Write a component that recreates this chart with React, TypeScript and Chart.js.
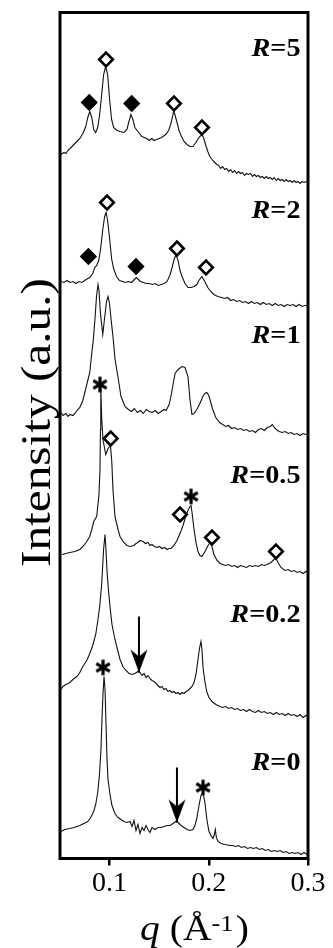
import React, { useEffect, useRef } from 'react';
import { Chart, registerables } from 'chart.js';

Chart.register(...registerables);

// ---------- data (q in 1/Å, intensity in arbitrary offset units) ----------
const xTicks = [0.1, 0.2, 0.3];

const qR5 = [0.051,0.054,0.056,0.058,0.062,0.066,0.070,0.073,0.076,0.078,0.080,0.082,0.084,0.086,0.088,0.090,0.092,0.094,0.096,0.098,0.100,0.102,0.104,0.1075,0.1105,0.1145,0.1175,0.1195,0.1215,0.1235,0.1255,0.1285,0.1325,0.1375,0.140,0.1425,0.145,0.1475,0.150,0.1525,0.1565,0.1595,0.1615,0.1635,0.1645,0.1655,0.168,0.170,0.172,0.175,0.178,0.181,0.184,0.187,0.190,0.193,0.195,0.197,0.199,0.201,0.204,0.206,0.208,0.210,0.212,0.214,0.216,0.218,0.220,0.222,0.224,0.226,0.228,0.230,0.232,0.234,0.236,0.238,0.240,0.242,0.244,0.246,0.248,0.250,0.252,0.254,0.256,0.258,0.260,0.262,0.264,0.266,0.268,0.270,0.272,0.274,0.276,0.278,0.280,0.282,0.284,0.286,0.288,0.290,0.292,0.294,0.296,0.298,0.300];
const iR5 = [704,706,705,708,712,716,720,725,732,741,747,741,729,726,731,744,764,784,792,784,759,739,731,728,727,726,729,737,744,739,731,727,722,720,718,720,718,719,720,721,724,728,734,742,747,745,736,728,723,717,714,712,712,716,721,724,720,713,707,702,698,696,694,693,690,692,689,690,687,689,686,688,685,687,685,686,683,685,684,685,682,684,682,683,681,682,680,682,680,681,679,681,678,680,678,679,677,679,677,678,676,678,676,677,675,677,676,677,676];

const qR2 = [0.051,0.054,0.057,0.060,0.063,0.066,0.069,0.072,0.075,0.078,0.080,0.083,0.085,0.087,0.089,0.091,0.093,0.095,0.0965,0.098,0.100,0.102,0.104,0.107,0.110,0.113,0.116,0.119,0.122,0.124,0.127,0.129,0.131,0.134,0.137,0.140,0.143,0.146,0.149,0.152,0.155,0.158,0.161,0.163,0.165,0.167,0.169,0.171,0.173,0.176,0.179,0.182,0.185,0.188,0.190,0.193,0.196,0.199,0.202,0.205,0.209,0.213,0.216,0.219,0.222,0.225,0.228,0.231,0.234,0.237,0.240,0.243,0.246,0.249,0.252,0.255,0.258,0.261,0.264,0.267,0.270,0.273,0.276,0.279,0.282,0.285,0.288,0.291,0.294,0.297,0.300];
const iR2 = [577,576,578,576,577,575,577,576,578,580,581,585,591,593,598,610,628,642,646,638,620,600,590,582,578,577,576,577,576,578,581,579,577,576,575,575,574,575,573,574,575,577,584,591,599,604,598,588,582,575,571,571,572,574,578,582,577,571,567,564,562,561,560,561,558,559,557,558,556,557,555,557,555,556,554,556,554,555,553,555,553,554,552,554,553,554,552,554,552,553,553];

const qR1 = [0.051,0.053,0.056,0.058,0.060,0.063,0.065,0.067,0.070,0.073,0.075,0.078,0.080,0.082,0.0836,0.0853,0.0868,0.0883,0.0893,0.0908,0.0931,0.0949,0.0969,0.0984,0.0999,0.1014,0.1037,0.1054,0.1088,0.1115,0.1155,0.119,0.122,0.125,0.128,0.131,0.134,0.137,0.140,0.143,0.146,0.149,0.152,0.155,0.157,0.160,0.162,0.164,0.166,0.169,0.173,0.176,0.179,0.181,0.183,0.185,0.188,0.191,0.194,0.196,0.198,0.200,0.202,0.204,0.207,0.211,0.214,0.217,0.220,0.223,0.226,0.229,0.232,0.235,0.238,0.241,0.244,0.247,0.250,0.253,0.256,0.259,0.262,0.264,0.266,0.268,0.271,0.274,0.277,0.280,0.283,0.286,0.289,0.292,0.295,0.298,0.300];
const iR1 = [446,443,445,442,444,443,445,448,451,458,466,478,486,505,519,540,562,574,568,545,524,540,557,562,555,540,519,500,479,462,452,449,447,450,446,448,445,449,447,446,448,445,447,449,448,454,463,474,485,489,492,491,482,459,444,445,449,455,462,465,466,463,456,449,441,436,434,432,433,430,431,429,430,428,429,427,428,426,429,430,428,431,432,434,431,429,427,426,427,425,426,424,425,423,425,424,424];

const qR05 = [0.052,0.056,0.060,0.065,0.070,0.074,0.077,0.080,0.082,0.084,0.0870,0.0893,0.0903,0.0908,0.0911,0.0921,0.0933,0.0961,0.0984,0.1009,0.1022,0.1034,0.1054,0.1085,0.1105,0.1135,0.1175,0.1206,0.1246,0.1266,0.1286,0.1307,0.1337,0.1362,0.1387,0.1407,0.1427,0.1452,0.1478,0.1503,0.1528,0.1554,0.1579,0.1599,0.1619,0.1649,0.1679,0.1710,0.1740,0.1770,0.1790,0.1810,0.1821,0.1831,0.1851,0.1871,0.1891,0.1911,0.1931,0.1962,0.1992,0.2012,0.2032,0.2052,0.2083,0.2113,0.214,0.217,0.220,0.223,0.226,0.229,0.232,0.235,0.238,0.241,0.244,0.247,0.250,0.253,0.256,0.2587,0.2627,0.2657,0.2677,0.2698,0.2728,0.2768,0.280,0.283,0.286,0.289,0.292,0.295,0.298,0.300];
const iR05 = [304,305,306,307,309,313,317,322,329,337,342,364,389,429,471,439,419,404,410,413,397,369,342,329,322,317,313,312,313,315,316,318,317,315,316,313,314,312,311,312,310,311,309,310,310,313,318,325,333,343,348,352,353,346,329,316,307,303,302,307,313,316,312,304,298,295,294,293,294,292,293,291,293,292,291,293,292,293,292,294,293,294,296,299,300,296,291,288,289,287,288,286,287,285,287,286];

const qR02 = [0.051,0.053,0.056,0.060,0.063,0.067,0.070,0.073,0.077,0.080,0.083,0.086,0.088,0.090,0.092,0.093,0.094,0.0954,0.0964,0.0974,0.0989,0.1004,0.1024,0.1054,0.1085,0.1105,0.1135,0.1165,0.1196,0.1226,0.1256,0.1286,0.1306,0.1327,0.1347,0.1367,0.1387,0.1407,0.1427,0.1448,0.1468,0.1488,0.1508,0.1528,0.1548,0.1568,0.1589,0.1609,0.1629,0.1649,0.1669,0.1690,0.1710,0.1730,0.1750,0.1770,0.1790,0.1810,0.1831,0.1851,0.1871,0.1891,0.1906,0.1921,0.1931,0.1942,0.1962,0.1982,0.2002,0.2032,0.2072,0.2113,0.214,0.217,0.220,0.223,0.226,0.229,0.232,0.235,0.238,0.241,0.244,0.247,0.250,0.253,0.256,0.259,0.262,0.265,0.268,0.271,0.274,0.277,0.280,0.283,0.286,0.289,0.292,0.295,0.298,0.300];
const iR02 = [169,172,174,176,179,182,186,192,198,205,213,224,237,252,274,292,310,324,308,287,268,252,234,219,207,199,192,188,185,184,185,187,186,183,185,181,183,180,178,177,175,173,171,172,169,170,167,168,166,167,165,166,164,166,165,167,168,170,172,176,184,199,210,217,209,191,176,166,161,157,154,152,151,152,150,151,149,150,148,149,147,149,147,146,148,146,147,145,146,144,146,144,145,143,145,143,144,142,144,141,143,142];

const qR0 = [0.051,0.055,0.060,0.064,0.067,0.070,0.074,0.078,0.081,0.084,0.086,0.088,0.0898,0.0913,0.0923,0.0933,0.0944,0.0954,0.0964,0.0974,0.0984,0.1004,0.1024,0.1054,0.1085,0.1115,0.1145,0.1175,0.1206,0.1226,0.1246,0.1266,0.1286,0.1306,0.1327,0.1347,0.1367,0.1387,0.1407,0.1427,0.1458,0.1488,0.1518,0.1548,0.1579,0.1609,0.1639,0.1669,0.1690,0.1720,0.1750,0.1780,0.1810,0.1841,0.1861,0.1881,0.1901,0.1921,0.1942,0.1962,0.1982,0.2002,0.2022,0.2042,0.2056,0.2066,0.2076,0.2093,0.2123,0.2163,0.2214,0.224,0.227,0.230,0.233,0.236,0.239,0.242,0.245,0.248,0.251,0.254,0.257,0.260,0.263,0.266,0.269,0.272,0.275,0.278,0.281,0.284,0.287,0.290,0.293,0.296,0.299];
const iR0 = [27,29,30,31,32,33,35,37,41,47,54,66,84,109,139,164,182,169,134,99,79,64,53,45,41,39,37,36,37,32,38,28,34,25,31,28,33,29,26,31,29,31,31,32,33,33,35,37,36,33,31,29,28,29,33,41,53,63,66,55,38,27,23,20,24,29,21,17,15,14,13,13,12,13,11,12,10,11,10,11,9,10,8,9,7,8,7,8,6,7,5,6,5,6,4,6,4];

// peak markers
const openDiamondQ = [0.0964,0.1649,0.1931, 0.0974,0.1679,0.1972, 0.1011,0.1710,0.2032,0.2677];
const openDiamondI = [799,755,731, 656,610,591, 420,344,321,307];
const filledDiamondQ = [0.0795,0.1223, 0.0786,0.1266];
const filledDiamondI = [756,755, 602,592];
const starQ = [0.0903,0.1821, 0.0934,0.1942];
const starI = [474,362, 191,71];

// arrows: [q, start intensity, tip intensity]
const arrowQ = [0.1296, 0.1679];
const arrowTop = [242, 91];
const arrowTip = [186, 36];

// curve labels
const labelText = ['5', '2', '1', '0.5', '0.2', '0'];
const labelLevel = [803, 641, 516, 376, 237, 89];
const labelQ = 0.2925;

const SERIF = '"Liberation Serif", "Times New Roman", Times, serif';

function pts(q: number[], v: number[]) {
  return q.map((x, i) => ({ x, y: v[i] }));
}

function makeStar(): HTMLCanvasElement {
  const c = document.createElement('canvas');
  c.width = 20;
  c.height = 20;
  const g = c.getContext('2d')!;
  g.strokeStyle = '#000';
  g.lineWidth = 3.2;
  const r = 7.8;
  for (let k = 0; k < 3; k++) {
    const a = Math.PI / 2 + (k * Math.PI) / 3;
    g.beginPath();
    g.moveTo(10 + r * Math.cos(a), 10 + r * Math.sin(a));
    g.lineTo(10 - r * Math.cos(a), 10 - r * Math.sin(a));
    g.stroke();
  }
  return c;
}

function makeArrowHead(): HTMLCanvasElement {
  const c = document.createElement('canvas');
  c.width = 18;
  c.height = 50;
  const g = c.getContext('2d')!;
  g.fillStyle = '#000';
  g.beginPath();
  g.moveTo(9, 25);
  g.lineTo(0.5, 2);
  g.lineTo(9, 9);
  g.lineTo(17.5, 2);
  g.closePath();
  g.fill();
  return c;
}

const decorPlugin = {
  id: 'decor',
  afterDraw(chart: any) {
    const { ctx, chartArea, scales } = chart;
    const { left, right, top, bottom } = chartArea;
    ctx.save();
    ctx.strokeStyle = '#000';
    ctx.lineWidth = 3;
    ctx.strokeRect(left, top, right - left, bottom - top);
    ctx.fillStyle = '#000';
    ctx.textBaseline = 'alphabetic';
    ctx.textAlign = 'left';

    // curve labels  R=...
    const xr = scales.x.getPixelForValue(labelQ);
    labelText.forEach((t, i) => {
      const yb = scales.y.getPixelForValue(labelLevel[i]);
      ctx.save();
      ctx.translate(xr, yb);
      ctx.scale(1.13, 1);
      ctx.font = `italic bold 25px ${SERIF}`;
      const w1 = ctx.measureText('R').width;
      ctx.font = `bold 25px ${SERIF}`;
      const rest = '=' + t;
      const w2 = ctx.measureText(rest).width;
      ctx.font = `italic bold 25px ${SERIF}`;
      ctx.fillText('R', -(w1 + w2), 0);
      ctx.font = `bold 25px ${SERIF}`;
      ctx.fillText(rest, -w2, 0);
      ctx.restore();
    });

    // y title
    ctx.save();
    ctx.translate(49.5, 422.5);
    ctx.rotate(-Math.PI / 2);
    ctx.font = `42px ${SERIF}`;
    const yt = 'Intensity (a.u.)';
    const wy = ctx.measureText(yt).width;
    ctx.scale(289 / wy, 1);
    ctx.textAlign = 'center';
    ctx.fillText(yt, 0, 0);
    ctx.restore();

    // x title  q (Å-1)
    ctx.save();
    ctx.translate(140, 940);
    ctx.scale(1.1, 1);
    let x = 0;
    ctx.font = `italic 36px ${SERIF}`;
    ctx.fillText('q', x, 0);
    x += ctx.measureText('q ').width;
    ctx.font = `36px ${SERIF}`;
    ctx.fillText('(Å', x, 0);
    x += ctx.measureText('(Å').width;
    ctx.font = `24px ${SERIF}`;
    ctx.fillText('-1', x, -9);
    x += ctx.measureText('-1').width + 2;
    ctx.font = `36px ${SERIF}`;
    ctx.fillText(')', x, 0);
    ctx.restore();

    ctx.restore();
  },
};

export default function App() {
  const ref = useRef<HTMLCanvasElement | null>(null);

  useEffect(() => {
    if (!ref.current) return;
    const star = makeStar();
    const head = makeArrowHead();
    const curve = (q: number[], v: number[]) => ({
      data: pts(q, v),
      borderColor: '#111',
      borderWidth: 1.1,
      pointRadius: 0,
      tension: 0,
      order: 2,
    });
    const arrows = arrowQ.map((q, i) => ({
      data: [
        { x: q, y: arrowTop[i] },
        { x: q, y: arrowTip[i] },
      ],
      borderColor: '#000',
      borderWidth: 2,
      pointRadius: [0, 5],
      pointStyle: ['circle', head],
      tension: 0,
      order: 1,
    }));
    const chart = new Chart(ref.current, {
      type: 'line',
      data: {
        datasets: [
          {
            data: pts(openDiamondQ, openDiamondI),
            showLine: false,
            pointStyle: 'rectRot',
            pointRadius: 6.8,
            pointBorderWidth: 2.6,
            pointBorderColor: '#000',
            pointBackgroundColor: '#fff',
            order: 0,
          },
          {
            data: pts(filledDiamondQ, filledDiamondI),
            showLine: false,
            pointStyle: 'rectRot',
            pointRadius: 6.8,
            pointBorderWidth: 2.6,
            pointBorderColor: '#000',
            pointBackgroundColor: '#000',
            order: 0,
          },
          {
            data: pts(starQ, starI),
            showLine: false,
            pointStyle: star,
            pointRadius: 5,
            order: 0,
          },
          ...arrows,
          curve(qR5, iR5),
          curve(qR2, iR2),
          curve(qR1, iR1),
          curve(qR05, iR05),
          curve(qR02, iR02),
          curve(qR0, iR0),
        ] as any,
      },
      options: {
        animation: false,
        responsive: false,
        maintainAspectRatio: false,
        layout: { padding: { left: 60, right: 25, top: 12.5, bottom: 0 } },
        plugins: { legend: { display: false }, tooltip: { enabled: false } },
        scales: {
          x: {
            type: 'linear',
            min: 0.05,
            max: 0.3,
            afterBuildTicks: (s: any) => {
              s.ticks = xTicks.map((v) => ({ value: v }));
            },
            afterFit: (s: any) => {
              s.height = 89.5;
            },
            grid: {
              display: true,
              drawOnChartArea: false,
              drawTicks: true,
              tickLength: 7,
              color: '#000',
              lineWidth: 2.5,
            },
            border: { display: false },
            ticks: {
              color: '#000',
              font: { family: SERIF, size: 28 },
              padding: 1,
              maxRotation: 0,
              autoSkip: false,
              callback: (v: any) => Number(v).toFixed(1),
            },
          },
          y: { type: 'linear', min: 0, max: 846, display: false },
        },
      } as any,
      plugins: [decorPlugin],
    });
    return () => chart.destroy();
  }, []);

  return (
    <div style={{ position: 'fixed', left: 0, top: 0, width: 333, height: 948, background: '#fff' }}>
      <canvas ref={ref} width={333} height={948} style={{ display: 'block' }} />
    </div>
  );
}
